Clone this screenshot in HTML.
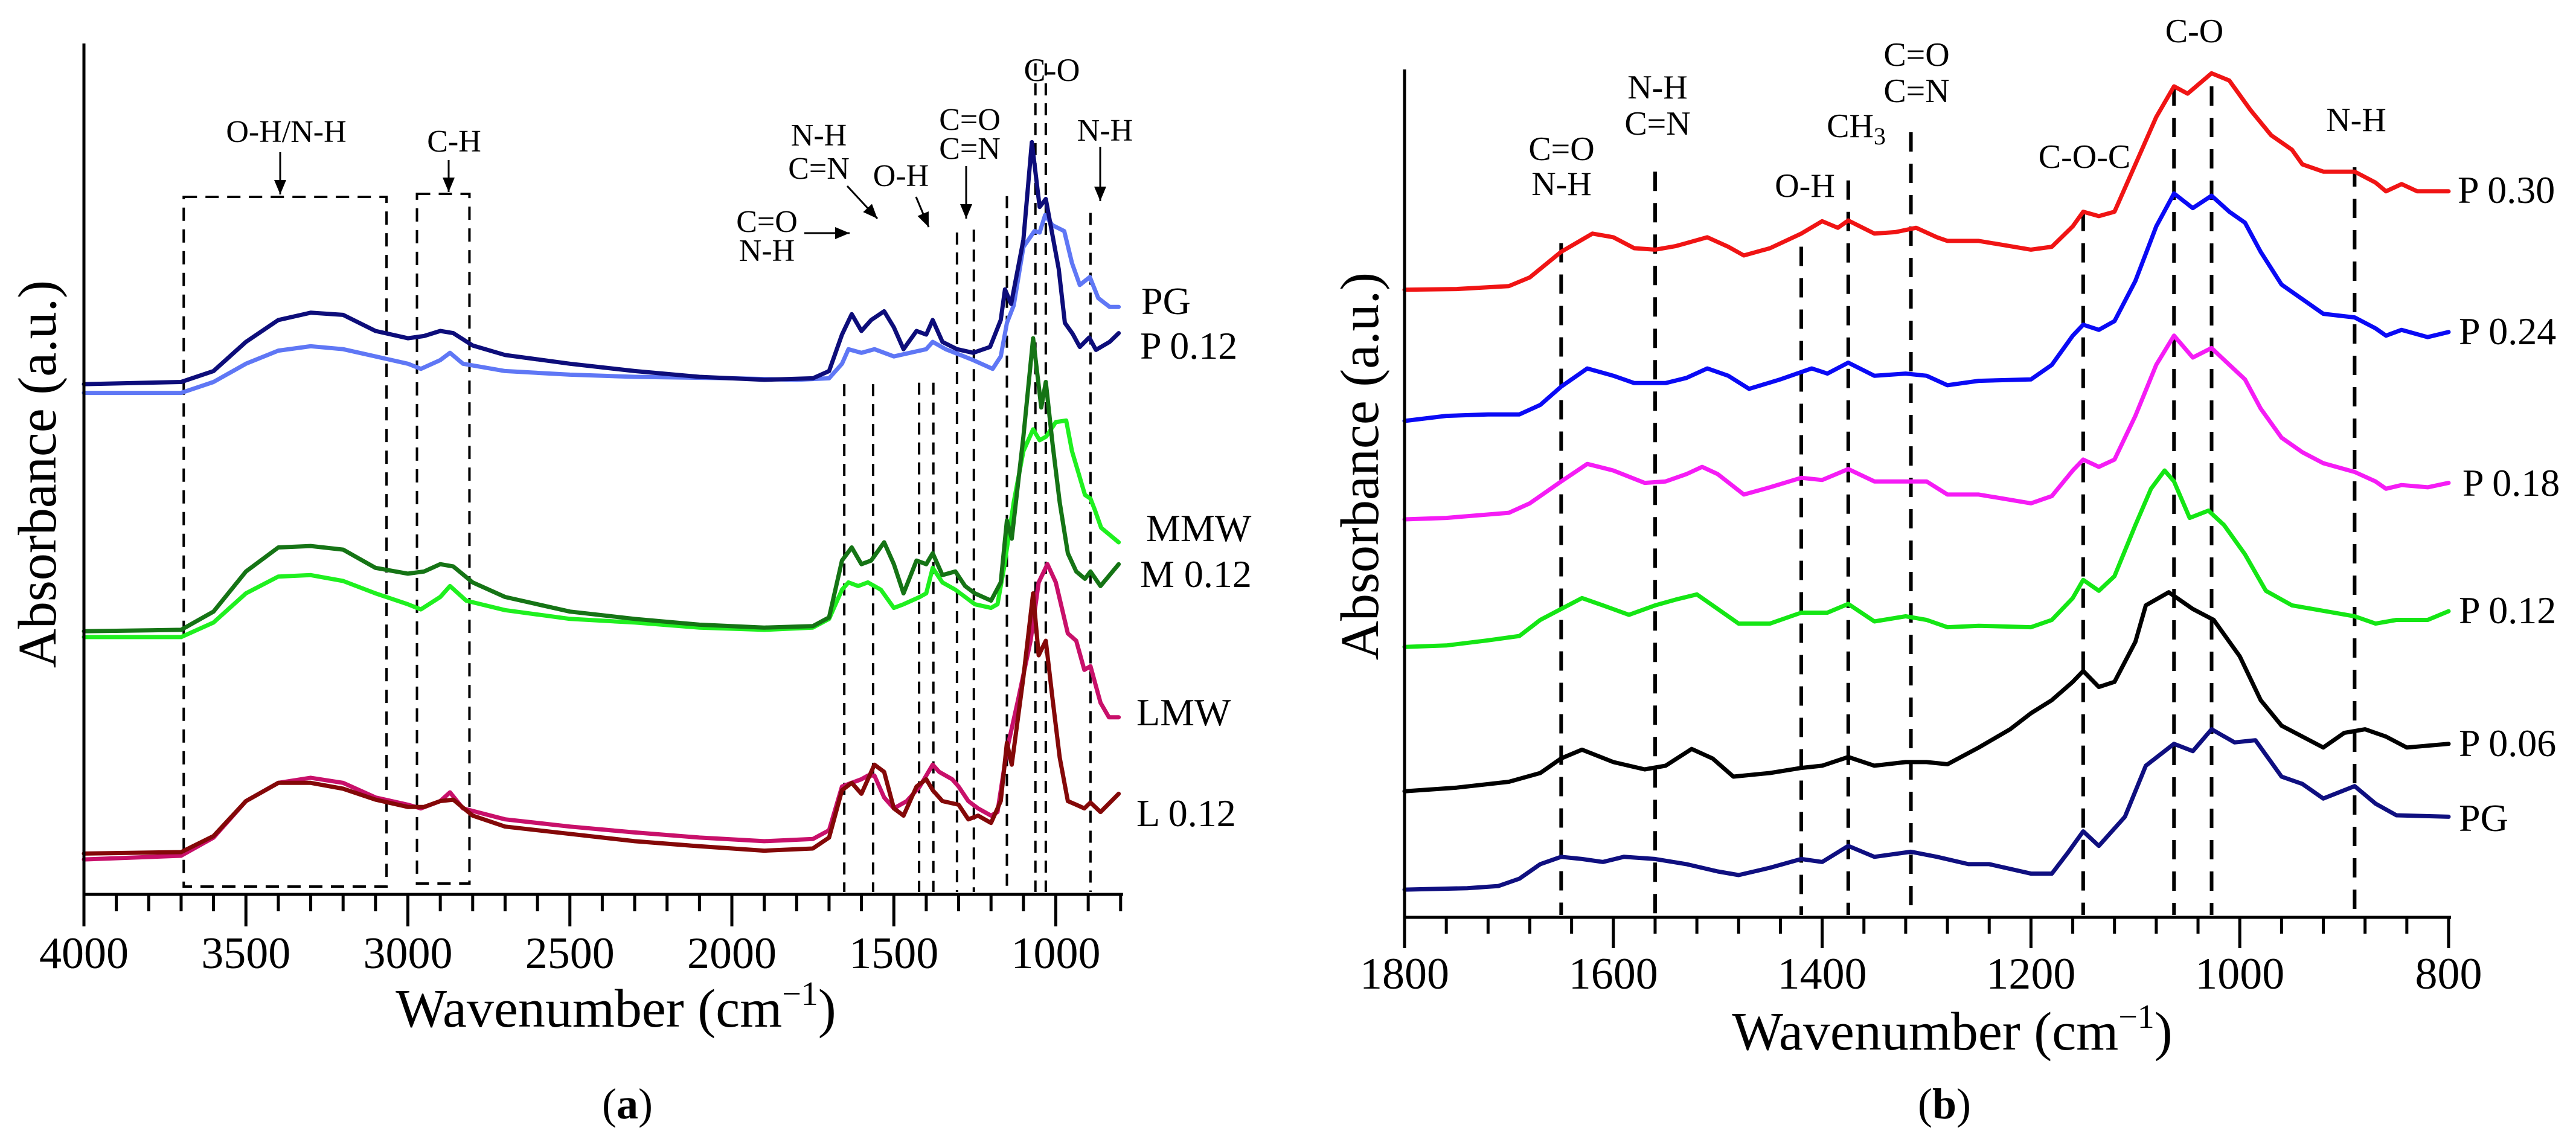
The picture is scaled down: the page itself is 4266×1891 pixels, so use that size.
<!DOCTYPE html>
<html><head><meta charset="utf-8"><style>
html,body{margin:0;padding:0;background:#fff;}
svg{display:block;font-family:"Liberation Serif","Times New Roman",serif;}
svg text{font-family:"Liberation Serif","Times New Roman",serif;}
</style></head><body>
<svg id="fig" width="4266" height="1891" viewBox="0 0 4266 1891" xmlns="http://www.w3.org/2000/svg" font-family="Liberation Serif, serif">
<rect width="4266" height="1891" fill="#fff"/>
<g id="panelA"></g>
<g id="panelB"></g>
</svg>
<script>
// ---------- Panel A data (absorbance in arbitrary units) ----------
const aXTicks = [4000,3500,3000,2500,2000,1500,1000];
const aPGWn = [4000,3700,3600,3500,3400,3300,3200,3100,3000,2960,2900,2870,2830,2700,2500,2300,2000,1800,1700,1660,1640,1600,1560,1500,1450,1400,1380,1340,1300,1255,1195,1170,1151,1130,1100,1066,1050,1033,1010,974,950,926,895,869,834,806];
const aPGAbs = [688,688,703,728,746,752,748,738,728,721,733,743,728,718,713,710,708,706,708,728,748,743,748,738,743,748,758,748,741,733,721,738,784,808,888,910,908,932,918,910,866,836,847,818,806,806];
const aP12Wn = [4000,3700,3600,3500,3400,3300,3200,3100,3000,2950,2900,2860,2800,2700,2500,2300,2100,1900,1750,1700,1660,1630,1600,1570,1530,1500,1470,1430,1400,1380,1350,1305,1255,1203,1170,1157,1138,1100,1074,1050,1031,991,972,948,926,897,876,834,806];
const aP12Abs = [700,703,718,758,788,798,795,773,763,766,773,770,753,740,728,718,710,706,708,718,768,796,773,788,800,778,748,773,768,788,758,748,743,751,788,830,810,898,1032,943,954,858,784,769,751,764,747,758,770];
const aMMWWn = [4000,3700,3600,3500,3400,3300,3200,3100,3000,2960,2900,2870,2820,2700,2500,2300,2100,1900,1750,1700,1660,1640,1610,1580,1540,1500,1470,1420,1400,1380,1350,1310,1280,1250,1200,1180,1160,1130,1100,1070,1050,1030,1000,968,950,930,910,893,880,860,806];
const aMMWAbs = [353,353,373,413,436,438,430,413,398,391,408,423,403,390,378,373,366,363,366,378,418,428,423,428,418,393,398,408,413,448,428,418,408,398,393,398,448,538,608,638,623,628,648,650,608,578,548,543,528,503,483];
const aM12Wn = [4000,3700,3600,3500,3400,3300,3200,3100,3000,2950,2900,2860,2800,2700,2500,2300,2100,1900,1750,1700,1660,1630,1600,1570,1530,1500,1470,1430,1400,1380,1350,1310,1280,1250,1200,1170,1151,1136,1100,1070,1045,1031,1010,988,963,937,910,893,862,806];
const aM12Abs = [361,363,388,443,476,478,473,448,440,443,453,450,428,408,388,378,370,366,368,380,458,476,453,458,483,453,413,458,453,468,438,443,423,413,403,428,513,488,628,763,668,703,618,538,468,443,433,443,423,453];
const aLMWWn = [4000,3700,3600,3500,3400,3300,3200,3100,3000,2960,2900,2870,2830,2700,2500,2300,2100,1900,1750,1700,1660,1630,1600,1580,1560,1530,1500,1460,1420,1400,1380,1360,1320,1300,1270,1240,1200,1180,1151,1116,1078,1053,1026,1000,963,937,912,893,862,836,806];
const aLMWAbs = [48,53,78,128,153,160,153,133,123,118,128,140,118,103,93,85,78,73,76,88,148,153,158,163,163,133,118,128,148,163,178,168,158,148,128,118,108,113,198,268,348,428,453,428,358,348,308,313,263,243,243];
const aL12Wn = [4000,3700,3600,3500,3400,3300,3200,3100,3000,2950,2900,2860,2800,2700,2500,2300,2100,1900,1750,1700,1660,1630,1600,1560,1530,1500,1470,1430,1400,1380,1350,1300,1270,1240,1200,1170,1151,1136,1100,1070,1053,1031,1010,988,963,937,912,893,862,806];
const aL12Abs = [56,58,80,128,153,153,145,130,120,120,128,130,108,93,83,73,66,60,63,78,143,153,138,178,168,118,108,148,158,143,128,123,103,108,98,128,208,178,298,413,328,348,268,188,128,123,118,126,113,138];
const aBandWn = [1653,1564,1422,1378,1305,1253,1151,1063,1031,893];
const aBandTop = [700,700,702,702,908,912,958,1140,1140,935];

// ---------- Panel B data ----------
const bXTicks = [1800,1600,1400,1200,1000,800];
const bP30Wn = [1800,1750,1700,1680,1650,1620,1600,1580,1560,1540,1510,1490,1475,1450,1420,1400,1385,1375,1350,1330,1310,1290,1280,1250,1200,1180,1160,1150,1135,1120,1100,1080,1063,1050,1027,1010,990,970,950,940,920,890,870,860,845,830,800];
const bP30Abs = [861,862,866,878,913,938,933,918,916,921,933,920,908,918,938,955,946,956,938,940,946,933,928,928,916,920,948,968,962,968,1033,1098,1140,1130,1158,1148,1108,1073,1053,1033,1023,1023,1008,996,1006,996,996];
const bP24Wn = [1800,1760,1720,1690,1670,1650,1625,1600,1580,1550,1530,1510,1490,1470,1440,1410,1395,1375,1350,1320,1300,1280,1250,1200,1180,1160,1150,1135,1120,1100,1080,1063,1045,1027,1010,995,980,960,945,920,890,870,860,845,820,800];
const bP24Abs = [681,688,690,690,703,728,753,743,733,733,740,753,743,725,738,753,746,761,743,746,743,730,736,738,758,798,813,806,818,873,948,993,973,990,968,953,913,868,853,828,823,808,798,806,796,803];
const bP18Wn = [1800,1760,1700,1680,1650,1625,1600,1570,1550,1530,1515,1500,1475,1450,1420,1400,1375,1350,1320,1300,1280,1250,1200,1180,1160,1150,1135,1120,1100,1080,1063,1045,1027,1010,995,980,960,940,920,890,870,860,845,820,800];
const bP18Abs = [546,548,555,568,598,622,613,596,598,608,618,608,580,590,603,600,615,598,598,598,580,580,568,578,613,628,618,628,688,758,798,768,781,758,738,698,658,638,623,611,598,588,593,590,596];
const bP12Wn = [1800,1760,1720,1690,1670,1650,1630,1610,1585,1560,1540,1520,1500,1480,1450,1420,1395,1375,1350,1320,1300,1280,1250,1200,1180,1160,1150,1135,1120,1100,1085,1072,1063,1048,1030,1015,995,975,950,930,890,870,850,820,800];
const bP12Abs = [371,373,380,386,408,423,438,428,415,428,436,443,423,403,403,418,418,430,406,413,408,398,400,398,408,438,463,448,468,538,588,613,598,548,558,538,498,448,428,423,413,403,408,408,420];
const bP06Wn = [1800,1750,1700,1670,1650,1630,1600,1570,1550,1525,1505,1485,1450,1420,1400,1375,1350,1320,1300,1280,1250,1220,1200,1180,1160,1150,1135,1120,1100,1090,1068,1045,1025,1000,980,960,940,920,900,880,860,840,800];
const bP06Abs = [173,178,186,198,218,230,213,203,208,231,218,193,198,205,208,220,208,213,213,210,233,258,280,298,323,338,316,323,378,428,446,423,408,358,298,263,248,233,253,258,248,233,238];
const bPGWn = [1800,1740,1710,1690,1670,1650,1630,1610,1590,1560,1530,1500,1480,1450,1420,1400,1375,1350,1315,1290,1260,1240,1200,1180,1165,1150,1135,1110,1090,1063,1045,1027,1005,985,960,940,920,890,870,850,800];
const bPGAbs = [38,40,43,53,73,83,80,76,83,80,73,63,58,68,80,76,98,83,90,83,73,73,60,60,88,118,98,138,208,238,228,258,240,243,193,183,163,180,156,140,138];
const bBandWn = [1650,1560,1420,1375,1315,1150,1063,1027,890];
const bBandTop = [925,1023,920,1011,1077,968,1140,1140,1029];

const NS = "http://www.w3.org/2000/svg";
const FONT = '"Liberation Serif", "Times New Roman", serif';
function mk(parent, tag, attrs){ const e=document.createElementNS(NS,tag); for(const k in attrs) e.setAttribute(k,attrs[k]); parent.appendChild(e); return e; }

const A = {x0:139, wnMax:4000, wnMin:800, pxPer:0.5365, y0:1481, k:1.207, top:72};
function axA(wn){ return A.x0 + (A.wnMax - wn)*A.pxPer; }
function ayA(v){ return A.y0 - v*A.k; }
const B = {x0:2326, wnMax:1800, wnMin:800, pxPer:1.729, y0:1519, k:1.207, top:115};
function axB(wn){ return B.x0 + (B.wnMax - wn)*B.pxPer; }
function ayB(v){ return B.y0 - v*B.k; }

function drawSeries(g, wn, ab, fx, fy, color, name, w){
  let d = wn.map((w_,i)=>(i?'L':'M')+fx(w_).toFixed(1)+' '+fy(ab[i]).toFixed(1)).join(' ');
  const p = mk(g,'path',{d:d,fill:'none',stroke:color,'stroke-width':w,'stroke-linejoin':'round','stroke-linecap':'round'});
  
  
}
function txt(g, x, y, s, size, anchor, name, extra){
  const t = mk(g,'text',{x:x,y:y,'font-size':size,'text-anchor':anchor||'start',fill:'#000','font-family':FONT});
  t.style.fontFamily = FONT;
  if(extra) for(const k in extra) t.setAttribute(k,extra[k]);
  t.textContent = s;
  
  
  return t;
}
function line(g,x1,y1,x2,y2,w,dash,name){
  const l = mk(g,'line',{x1:x1,y1:y1,x2:x2,y2:y2,stroke:'#000','stroke-width':w});
  if(dash) l.setAttribute('stroke-dasharray',dash);
  
  
  return l;
}
function arrow(g,x1,y1,x2,y2,name){
  line(g,x1,y1,x2,y2,3,null,name+'-shaft');
  const ang=Math.atan2(y2-y1,x2-x1), L=24, W=10;
  const bx=x2-L*Math.cos(ang), by=y2-L*Math.sin(ang);
  const pts=[[x2,y2],[bx+W*Math.sin(ang),by-W*Math.cos(ang)],[bx-W*Math.sin(ang),by+W*Math.cos(ang)]].map(p=>p.join(',')).join(' ');
  const h=mk(g,'polygon',{points:pts,fill:'#000'});
  
  
}

// ---------------- Panel A ----------------
const ga = document.getElementById('panelA');
const bx1 = mk(ga,'rect',{x:axA(3692),y:326,width:axA(3066)-axA(3692),height:1468-326,fill:'none',stroke:'#000','stroke-width':4,'stroke-dasharray':'22 14'});


const bx2 = mk(ga,'rect',{x:axA(2972),y:321,width:axA(2810)-axA(2972),height:1463-321,fill:'none',stroke:'#000','stroke-width':4,'stroke-dasharray':'22 14'});


aBandWn.forEach((w,i)=>{ line(ga,axA(w),ayA(aBandTop[i]),axA(w),A.y0-4,4,'20 13','band-line-a'); });
drawSeries(ga,aPGWn,aPGAbs,axA,ayA,'#5f77f5','curve-a-pg',7);
drawSeries(ga,aP12Wn,aP12Abs,axA,ayA,'#0d0d7a','curve-a-p012',7);
drawSeries(ga,aMMWWn,aMMWAbs,axA,ayA,'#1ff01f','curve-a-mmw',7);
drawSeries(ga,aM12Wn,aM12Abs,axA,ayA,'#157415','curve-a-m012',7);
drawSeries(ga,aLMWWn,aLMWAbs,axA,ayA,'#c8106a','curve-a-lmw',7);
drawSeries(ga,aL12Wn,aL12Abs,axA,ayA,'#840808','curve-a-l012',7);
line(ga,A.x0,A.top,A.x0,A.y0+53,5,null,'y-axis-a');
line(ga,A.x0,A.y0,axA(A.wnMin)+4,A.y0,5,null,'x-axis-a');
for(let w=3900; w>=800; w-=100){ const maj = w%500===0; line(ga,axA(w),A.y0,axA(w),A.y0+(maj?53:28),5,null,'x-tick-a'); }
aXTicks.forEach(w=>txt(ga,axA(w),1603,String(w),74,'middle','x-tick-label-a'));
txt(ga,474,235,'O-H/N-H',52,'middle','label-oh-nh-a'); arrow(ga,464,252,464,322,'arrow-oh-nh-a');
txt(ga,752,251,'C-H',52,'middle','label-ch-a'); arrow(ga,743,265,743,318,'arrow-ch-a');
txt(ga,1356,241,'N-H',52,'middle','label-nh-a1'); txt(ga,1356,296,'C=N',52,'middle','label-cn-a1'); arrow(ga,1403,308,1453,362,'arrow-nh-cn-a');
txt(ga,1270,384,'C=O',52,'middle','label-co-a1'); txt(ga,1270,432,'N-H',52,'middle','label-nh-a2'); arrow(ga,1332,386,1407,386,'arrow-co-nh-a');
txt(ga,1492,308,'O-H',52,'middle','label-oh-a'); arrow(ga,1517,326,1538,376,'arrow-oh-a');
txt(ga,1606,215,'C=O',52,'middle','label-co-a2'); txt(ga,1606,263,'C=N',52,'middle','label-cn-a2'); arrow(ga,1600,275,1600,362,'arrow-co-cn-a');
txt(ga,1742,134,'C-O',54,'middle','label-c-o-a');
txt(ga,1830,233,'N-H',52,'middle','label-nh-a3'); arrow(ga,1822,243,1822,333,'arrow-nh-a3');
txt(ga,1890,520,'PG',64,'start','series-label-pg-a');
txt(ga,1888,594,'P 0.12',64,'start','series-label-p012-a');
txt(ga,1898,896,'MMW',64,'start','series-label-mmw');
txt(ga,1888,972,'M 0.12',64,'start','series-label-m012');
txt(ga,1882,1201,'LMW',64,'start','series-label-lmw');
txt(ga,1882,1368,'L 0.12',64,'start','series-label-l012');
const tA = txt(ga,1020,1700,'Wavenumber (cm',90,'middle','x-axis-title-a');
const sA = mk(tA,'tspan',{'font-size':56,dy:-36}); sA.textContent='\u22121';
 
const sA2 = mk(tA,'tspan',{dy:36}); sA2.textContent=')';
 
txt(ga,0,0,'Absorbance (a.u.)',90,'middle','y-axis-title-a',{transform:'translate(92,785) rotate(-90)'});
const pa = txt(ga,1039,1852,'',72,'middle','panel-label-a');
const pa1=mk(pa,'tspan',{}); pa1.textContent='(';
const pa2=mk(pa,'tspan',{'font-weight':'bold'}); pa2.textContent='a';
const pa3=mk(pa,'tspan',{}); pa3.textContent=')';

// ---------------- Panel B ----------------
const gb = document.getElementById('panelB');
bBandWn.forEach((w,i)=>{ line(gb,axB(w),ayB(bBandTop[i]),axB(w),B.y0-4,6,'32 20','band-line-b'); });
drawSeries(gb,bP30Wn,bP30Abs,axB,ayB,'#f01414','curve-b-p030',7);
drawSeries(gb,bP24Wn,bP24Abs,axB,ayB,'#0a0af5','curve-b-p024',7);
drawSeries(gb,bP18Wn,bP18Abs,axB,ayB,'#f51cf5','curve-b-p018',7);
drawSeries(gb,bP12Wn,bP12Abs,axB,ayB,'#14e614','curve-b-p012',7);
drawSeries(gb,bP06Wn,bP06Abs,axB,ayB,'#000000','curve-b-p006',7);
drawSeries(gb,bPGWn,bPGAbs,axB,ayB,'#0f0f80','curve-b-pg',7);
line(gb,B.x0,B.top,B.x0,B.y0+51,5,null,'y-axis-b');
line(gb,B.x0,B.y0,axB(B.wnMin)+4,B.y0,5,null,'x-axis-b');
for(let w=1760; w>=800; w-=40){ const maj = w%200===0; line(gb,axB(w),B.y0,axB(w),B.y0+(maj?51:27),5,null,'x-tick-b'); }
bXTicks.forEach(w=>txt(gb,axB(w),1637,String(w),74,'middle','x-tick-label-b'));
txt(gb,2586,265,'C=O',56,'middle','label-co-b1'); txt(gb,2586,323,'N-H',56,'middle','label-nh-b1');
txt(gb,2745,163,'N-H',56,'middle','label-nh-b2'); txt(gb,2745,223,'C=N',56,'middle','label-cn-b2');
txt(gb,2989,326,'O-H',56,'middle','label-oh-b');
const ch3 = txt(gb,3074,227,'CH',56,'middle','label-ch3-b');
const ch3s = mk(ch3,'tspan',{'font-size':40,dy:12}); ch3s.textContent='3';
 
txt(gb,3174,109,'C=O',56,'middle','label-co-b3'); txt(gb,3174,169,'C=N',56,'middle','label-cn-b3');
txt(gb,3452,278,'C-O-C',56,'middle','label-coc-b');
txt(gb,3634,70,'C-O',56,'middle','label-c-o-b');
txt(gb,3902,217,'N-H',56,'middle','label-nh-b3');
txt(gb,4070,336,'P 0.30',64,'start','series-label-p030');
txt(gb,4072,570,'P 0.24',64,'start','series-label-p024');
txt(gb,4078,821,'P 0.18',64,'start','series-label-p018');
txt(gb,4072,1032,'P 0.12',64,'start','series-label-p012-b');
txt(gb,4072,1252,'P 0.06',64,'start','series-label-p006');
txt(gb,4072,1376,'PG',64,'start','series-label-pg-b');
const tB = txt(gb,3233,1738,'Wavenumber (cm',90,'middle','x-axis-title-b');
const sB = mk(tB,'tspan',{'font-size':56,dy:-36}); sB.textContent='\u22121';
 
const sB2 = mk(tB,'tspan',{dy:36}); sB2.textContent=')';
 
txt(gb,0,0,'Absorbance (a.u.)',90,'middle','y-axis-title-b',{transform:'translate(2282,772) rotate(-90)'});
const pb = txt(gb,3220,1852,'',72,'middle','panel-label-b');
const pb1=mk(pb,'tspan',{}); pb1.textContent='(';
const pb2=mk(pb,'tspan',{'font-weight':'bold'}); pb2.textContent='b';
const pb3=mk(pb,'tspan',{}); pb3.textContent=')';
</script>
</body></html>
